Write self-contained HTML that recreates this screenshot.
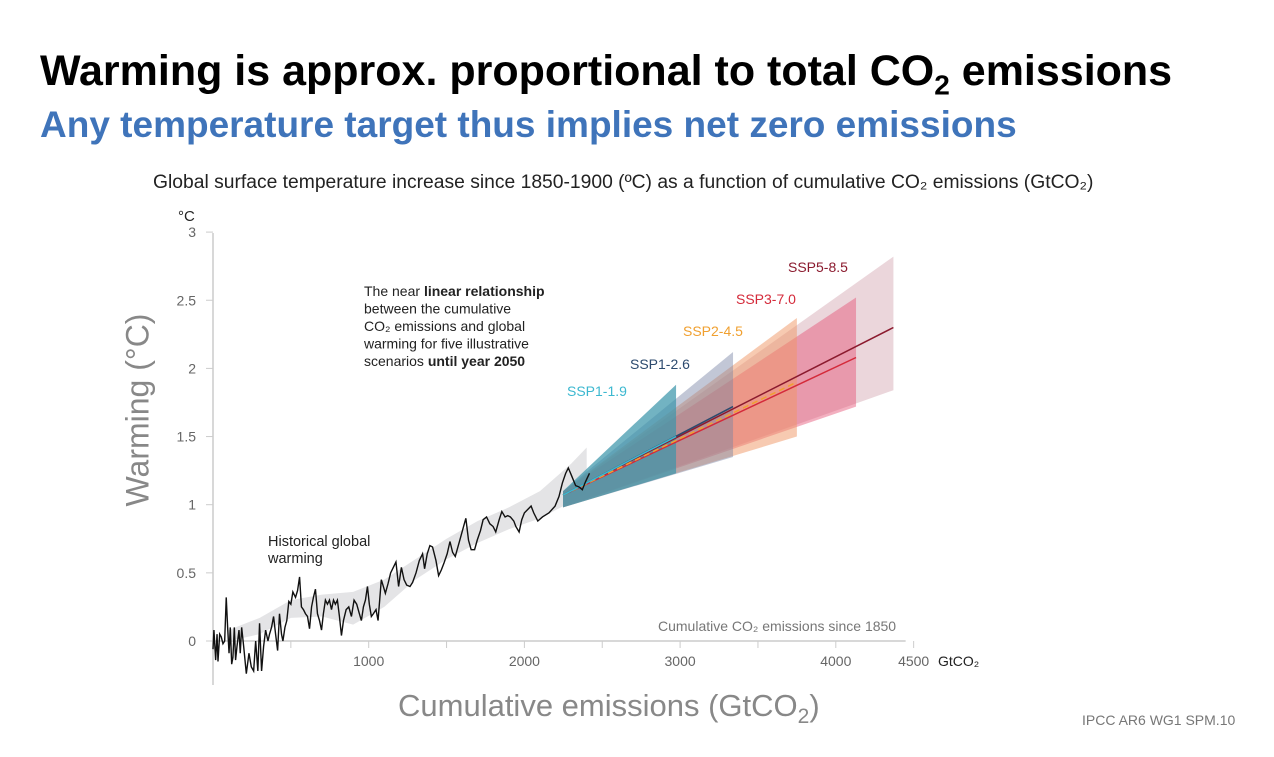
<!DOCTYPE html>
<html><head><meta charset="utf-8">
<style>
body{margin:0;background:#fff;width:1274px;height:757px;overflow:hidden;position:relative;font-family:"Liberation Sans",sans-serif}
.t{position:absolute;white-space:nowrap}
</style></head><body>
<div class="t" style="left:40px;top:47px;font-size:43px;font-weight:bold;color:#000">Warming is approx. proportional to total CO<sub style="font-size:28px">2</sub> emissions</div>
<div class="t" style="left:40px;top:104px;font-size:37px;font-weight:bold;color:#3f74ba">Any temperature target thus implies net zero emissions</div>
<div class="t" style="left:153px;top:172px;font-size:19.3px;color:#222">Global surface temperature increase since 1850-1900 (ºC) as a function of cumulative CO₂ emissions (GtCO₂)</div>
<div class="t" style="left:138px;top:410px;transform:translate(-50%,-50%) rotate(-90deg);font-size:32px;color:#888">Warming (°C)</div>
<div class="t" style="left:398px;top:688px;font-size:31px;color:#888">Cumulative emissions (GtCO<sub style="font-size:21px">2</sub>)</div>
<div class="t" style="left:1082px;top:712px;font-size:14px;color:#777">IPCC AR6 WG1 SPM.10</div>
<svg id="chart" width="1274" height="757" style="position:absolute;left:0;top:0" font-family="Liberation Sans, sans-serif"></svg>
<script>
const histE=[0,6,17,26,32,43,53,64,75,85,94,103,111,120,128,137,145,154,167,175,184,197,214,231,246,261,274,288,299,312,325,338,353,363,376,389,402,415,427,440,449,462,474,487,500,513,530,543,556,568,581,594,607,620,633,645,658,671,684,697,709,722,735,748,761,774,786,799,812,825,838,855,872,889,906,923,940,953,966,979,992,1004,1017,1030,1047,1060,1081,1094,1107,1124,1141,1158,1175,1192,1210,1227,1244,1265,1282,1304,1325,1346,1359,1376,1393,1410,1432,1449,1466,1483,1504,1522,1539,1556,1573,1590,1607,1624,1641,1658,1680,1697,1718,1735,1757,1778,1799,1816,1838,1855,1876,1893,1910,1932,1945,1966,1983,2000,2026,2043,2060,2086,2116,2158,2197,2222,2244,2265,2282,2304,2329,2351,2372,2393,2418];
const histT=[-0.06,0.08,-0.14,0.05,-0.15,0.05,0.03,-0.02,0,0.32,0.10,-0.09,0.10,-0.17,-0.12,0.10,-0.14,-0.04,0.08,-0.09,0.10,-0.04,-0.24,-0.09,-0.19,-0.22,0,-0.22,0.13,-0.22,-0.04,0.08,0,0.05,0.10,0.18,0.05,-0.07,0.20,0.05,0,0.10,0.15,0.29,0.27,0.36,0.32,0.37,0.47,0.25,0.23,0.20,0.18,0.09,0.25,0.32,0.38,0.20,0.15,0.08,0.20,0.30,0.27,0.30,0.23,0.30,0.27,0.30,0.18,0.04,0.15,0.23,0.25,0.18,0.30,0.27,0.20,0.15,0.25,0.30,0.40,0.27,0.18,0.20,0.23,0.15,0.45,0.40,0.35,0.42,0.50,0.54,0.58,0.40,0.54,0.45,0.41,0.40,0.43,0.50,0.59,0.64,0.53,0.64,0.70,0.69,0.59,0.48,0.52,0.57,0.64,0.73,0.65,0.62,0.69,0.76,0.83,0.90,0.74,0.67,0.67,0.74,0.81,0.89,0.91,0.86,0.84,0.80,0.89,0.95,0.91,0.92,0.91,0.88,0.84,0.80,0.89,0.94,0.97,0.99,0.94,0.88,0.91,0.94,0.99,1.06,1.16,1.23,1.27,1.21,1.14,1.13,1.11,1.17,1.23];
const bandE=[100,300,500,700,900,1100,1300,1500,1700,1900,2100,2300,2400];
const bandLo=[0.0,0.05,0.17,0.18,0.12,0.25,0.45,0.6,0.72,0.82,0.9,1.02,1.08];
const bandHi=[0.08,0.17,0.3,0.34,0.36,0.45,0.6,0.75,0.88,0.98,1.1,1.3,1.42];
const scenNames=["SSP5-8.5","SSP3-7.0","SSP2-4.5","SSP1-2.6","SSP1-1.9"];
const scenStartE=[2248,2248,2248,2248,2248];
const scenStartLo=[0.98,0.98,0.98,0.98,0.98];
const scenStartHi=[1.10,1.10,1.10,1.10,1.10];
const scenEndE=[4370,4130,3750,3340,2974];
const scenEndLo=[1.84,1.72,1.50,1.35,1.23];
const scenEndHi=[2.82,2.52,2.37,2.12,1.88];
const scenMidEnd=[2.30,2.08,1.90,1.72,1.50];
const scenMidStart=[1.07,1.07,1.07,1.07,1.07];
const yTicks=[0,0.5,1,1.5,2,2.5,3];
const yTickLabels=["0","0.5","1","1.5","2","2.5","3"];
const xTicks=[1000,2000,3000,4000,4500];
const xTickLabels=["1000","2000","3000","4000","4500"];
const xMinor=[500,1500,2500,3500];

const X=e=>213+e*0.1557, Y=t=>641-t*136.3;
const svg=document.getElementById('chart');const NS='http://www.w3.org/2000/svg';
function mk(tag,attrs,parent){const el=document.createElementNS(NS,tag);for(const k in attrs)el.setAttribute(k,attrs[k]);(parent||svg).appendChild(el);return el;}
function txt(x,y,s,attrs){const el=mk('text',Object.assign({x:x,y:y},attrs));el.textContent=s;return el;}
let el=mk('line',{x1:213,y1:233,x2:213,y2:685,stroke:'#ccc','stroke-width':1.5});


el=mk('line',{x1:213,y1:Y(0),x2:X(4500)-8,y2:Y(0),stroke:'#ccc','stroke-width':1.5});


yTicks.forEach((v,i)=>{
 let l=mk('line',{x1:206,y1:Y(v),x2:213,y2:Y(v),stroke:'#ccc'});
 
 
 let t=txt(196,Y(v)+5,yTickLabels[i],{'text-anchor':'end','font-size':14,fill:'#666'});
 
 
});
el=txt(178,221,'°C',{'font-size':15,fill:'#222'});


xTicks.concat(xMinor).forEach(v=>{
 let l=mk('line',{x1:X(v),y1:Y(0),x2:X(v),y2:Y(0)+7,stroke:'#ccc'});
 
 
});
xTicks.forEach((v,i)=>{
 let t=txt(X(v),666,xTickLabels[i],{'text-anchor':'middle','font-size':14,fill:'#666'});
 
 
});
el=txt(938,666,'GtCO₂',{'font-size':14,fill:'#222'});


el=txt(658,631,'Cumulative CO₂ emissions since 1850',{'font-size':14,fill:'#777'});


let pts=bandE.map((e,i)=>X(e)+','+Y(bandHi[i])).concat(bandE.slice().reverse().map((e,j)=>X(e)+','+Y(bandLo[bandE.length-1-j])));
el=mk('polygon',{points:pts.join(' '),fill:'#e4e4e6'});


const fills=['rgba(175,90,110,0.25)','rgba(228,80,115,0.45)','rgba(240,150,100,0.5)','rgba(120,130,165,0.45)','rgba(60,150,170,0.72)'];
const lineCols=['#8b1a2e','#d42a3a','#f0a030','#2c4a6e','#3cb8d0'];
scenNames.forEach((n,i)=>{
 let p=mk('polygon',{points:[X(scenStartE[i])+','+Y(scenStartHi[i]),X(scenEndE[i])+','+Y(scenEndHi[i]),X(scenEndE[i])+','+Y(scenEndLo[i]),X(scenStartE[i])+','+Y(scenStartLo[i])].join(' '),fill:fills[i]});
 
 
});
scenNames.forEach((n,i)=>{
 let l=mk('line',{x1:X(scenStartE[i]),y1:Y(scenMidStart[i]),x2:X(scenEndE[i]),y2:Y(scenMidEnd[i]),stroke:lineCols[i],'stroke-width':1.5,'stroke-dasharray':i==2?'6 4':'none'});
 
 
});
el=mk('polyline',{points:histE.map((e,i)=>X(e)+','+Y(histT[i])).join(' '),fill:'none',stroke:'#111','stroke-width':1.4});


const labPos=[[788,272],[736,304],[683,336],[630,369],[567,396]];
scenNames.forEach((n,i)=>{
 let t=txt(labPos[i][0],labPos[i][1],n,{'font-size':14,fill:lineCols[i]});
 
 
});
const ann=[['The near ','linear relationship'],['between the cumulative',''],['CO₂ emissions and global',''],['warming for five illustrative',''],['scenarios ','until year 2050']];
ann.forEach((a,i)=>{
 let t=txt(364,296+i*17.5,a[0],{'font-size':14,fill:'#222'});
 
 
 if(a[1]){let b=mk('tspan',{'font-weight':'bold'},t);b.textContent=a[1];}
});
el=txt(268,546,'Historical global',{'font-size':14.5,fill:'#222'});


el=txt(268,563,'warming',{'font-size':14.5,fill:'#222'});


</script>
</body></html>
